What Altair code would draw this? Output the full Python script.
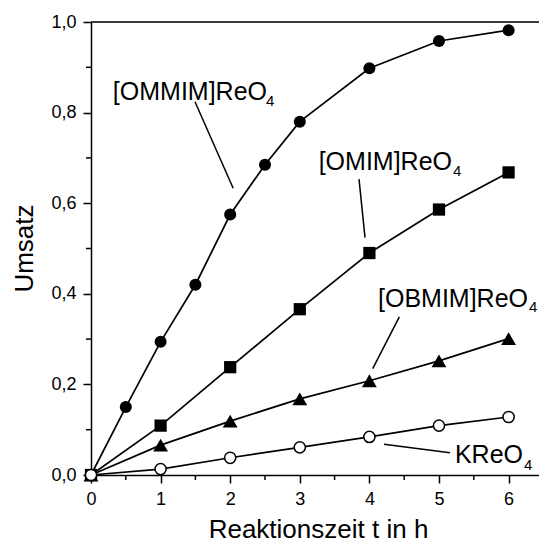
import altair as alt
import pandas as pd

# ---- data ----
t_ommim = [0, 0.5, 1, 1.5, 2, 2.5, 3, 4, 5, 6]
u_ommim = [0, 0.150, 0.294, 0.420, 0.575, 0.685, 0.780, 0.898, 0.958, 0.982]

t_std = [0, 1, 2, 3, 4, 5, 6]
u_omim = [0, 0.109, 0.238, 0.366, 0.490, 0.586, 0.668]
u_obmim = [0, 0.066, 0.119, 0.168, 0.208, 0.252, 0.301]
u_kreo = [0, 0.013, 0.038, 0.061, 0.084, 0.109, 0.128]

# annotation labels (main text + subscript) and leader lines, in data units
ann_main = ["[OMMIM]ReO", "[OMIM]ReO", "[OBMIM]ReO", "KReO"]
ann_sub = ["4", "4", "4", "4"]
ann_x = [2.529, 5.187, 6.279, 6.207]
ann_y = [0.828, 0.673, 0.3716, 0.027]
sub_x = [2.515, 5.201, 6.293, 6.221]
sub_y = [0.8135, 0.660, 0.3595, 0.0115]
lead_x1 = [1.494, 3.851, 4.430, 4.210]
lead_y1 = [0.824, 0.653, 0.349, 0.068]
lead_x2 = [2.043, 3.937, 4.048, 5.158]
lead_y2 = [0.633, 0.524, 0.235, 0.049]

x_major = [0, 1, 2, 3, 4, 5, 6]
x_minor = [0.5, 1.5, 2.5, 3.5, 4.5, 5.5, 6.5]
y_major = [0.0, 0.2, 0.4, 0.6, 0.8, 1.0]
y_minor = [0.1, 0.3, 0.5, 0.7, 0.9]

FONT = "Liberation Sans"
W, H = 448, 453

df = pd.concat([
    pd.DataFrame({"s": "OMMIM", "t": t_ommim, "u": u_ommim}),
    pd.DataFrame({"s": "OMIM", "t": t_std, "u": u_omim}),
    pd.DataFrame({"s": "OBMIM", "t": t_std, "u": u_obmim}),
    pd.DataFrame({"s": "KReO", "t": t_std, "u": u_kreo}),
], ignore_index=True)

xs = alt.Scale(domain=[0, 6.437], nice=False, zero=False)
ys = alt.Scale(domain=[0, 1.0], nice=False, zero=False)

X = alt.X("t:Q", scale=xs, axis=alt.Axis(
    values=x_major, title="Reaktionszeit t in h", grid=False,
    tickSize=8, tickWidth=1.5, tickColor="black", domainColor="black", domainWidth=1.5,
    labelFont=FONT, labelFontSize=18, labelColor="black", labelPadding=7,
    labelFlush=False, labelExpr="format(datum.value, 'd')",
    titleFont=FONT, titleFontSize=26, titleFontWeight="normal", titleColor="black",
    titleX=227, titleY=62, titleBaseline="alphabetic", titleAnchor="middle"))
Y = alt.Y("u:Q", scale=ys, axis=alt.Axis(
    values=y_major, title="Umsatz", grid=False,
    tickSize=8, tickWidth=1.5, tickColor="black", domainColor="black", domainWidth=1.5,
    labelFont=FONT, labelFontSize=18, labelColor="black", labelPadding=7,
    labelFlush=False, labelExpr="replace(format(datum.value, '.1f'), '.', ',')",
    titleFont=FONT, titleFontSize=26, titleFontWeight="normal", titleColor="black",
    titleX=-59, titleY=226, titleBaseline="alphabetic", titleAngle=270, titleAlign="center"))

base = alt.Chart(df)
lines = base.mark_line(color="black", strokeWidth=1.7).encode(x=X, y=Y, detail="s:N")

def pts(name, shape, filled, size):
    return alt.Chart(df[df.s == name]).mark_point(
        shape=shape, filled=True, size=size,
        fill="black" if filled else "white", stroke="black",
        strokeWidth=0 if filled else 1.5, opacity=1).encode(x="t:Q", y="u:Q")

p1 = pts("OMMIM", "circle", True, 145)
p2 = pts("OMIM", "square", True, 150)
p3 = pts("OBMIM", "triangle-up", True, 220)
p4 = pts("KReO", "circle", False, 125)

# minor ticks
xm = alt.Chart(pd.DataFrame({"v": x_minor})).mark_rule(color="black", strokeWidth=1.5).encode(
    x="v:Q", y=alt.value(H), y2=alt.value(H + 5))
ym = alt.Chart(pd.DataFrame({"v": y_minor})).mark_rule(color="black", strokeWidth=1.5).encode(
    y="v:Q", x=alt.value(0), x2=alt.value(-5))
top = alt.Chart(pd.DataFrame({"v": [1.0]})).mark_rule(color="black", strokeWidth=1.5).encode(
    y="v:Q", x=alt.value(0), x2=alt.value(W))

ann = pd.DataFrame({"m": ann_main, "sb": ann_sub, "x": ann_x, "y": ann_y,
                    "sx": sub_x, "sy": sub_y,
                    "x1": lead_x1, "y1": lead_y1, "x2": lead_x2, "y2": lead_y2})
leads = alt.Chart(ann).mark_rule(color="black", strokeWidth=1.5).encode(
    x="x1:Q", y="y1:Q", x2="x2:Q", y2="y2:Q")
txt = alt.Chart(ann).mark_text(font=FONT, fontSize=25, align="right", baseline="alphabetic",
                               color="black").encode(x="x:Q", y="y:Q", text="m:N")
sub = alt.Chart(ann).mark_text(font=FONT, fontSize=15, align="left", baseline="alphabetic",
                               color="black").encode(x="sx:Q", y="sy:Q", text="sb:N")

chart = alt.layer(lines, xm, ym, top, leads, txt, sub, p1, p2, p3, p4).properties(
    width=W, height=H,
    padding={"left": 91, "top": 22, "right": 0, "bottom": 69},
    autosize="none",
).configure_view(stroke=None).configure(background="white")

chart.save("out.html", embed_options={"renderer": "svg", "actions": False})
